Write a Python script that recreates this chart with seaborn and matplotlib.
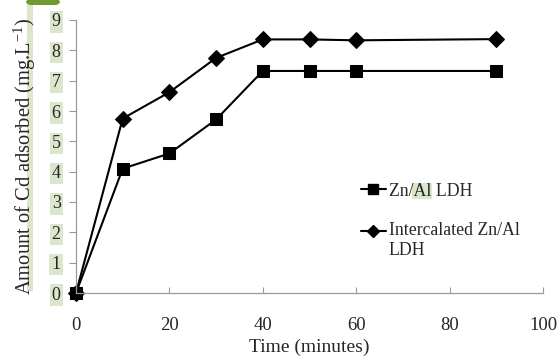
import matplotlib
matplotlib.use("Agg")
import matplotlib.pyplot as plt
import seaborn as sns
import pandas as pd
import numpy as np
from matplotlib.patches import Rectangle, FancyBboxPatch
from matplotlib.lines import Line2D

time = [0, 10, 20, 30, 40, 50, 60, 90]
znal = [0, 4.1, 4.6, 5.72, 7.32, 7.32, 7.32, 7.32]
intercal = [0, 5.75, 6.62, 7.75, 8.36, 8.36, 8.33, 8.37]
series_names = ["Zn/Al LDH", "Intercalated Zn/Al\nLDH"]
xticks = [0, 20, 40, 60, 80, 100]
yticks = list(range(0, 10))

df = pd.DataFrame({
    "Time": time * 2,
    "Amount": znal + intercal,
    "Series": [series_names[0]] * len(time) + [series_names[1]] * len(time),
})

sns.set_style("white")
plt.rcParams["font.family"] = ["Liberation Serif", "DejaVu Serif"]
plt.rcParams["mathtext.fontset"] = "custom"
plt.rcParams["mathtext.rm"] = "Liberation Serif"
plt.rcParams["mathtext.it"] = "Liberation Serif:italic"

fig = plt.figure(figsize=(5.6, 3.61), dpi=100)
ax = fig.add_axes([76/560, 1-293/361, (543-76)/560, (293-20)/361])

sns.lineplot(data=df, x="Time", y="Amount", hue="Series", style="Series",
             markers={series_names[0]: "s", series_names[1]: "D"},
             dashes=False, palette=["black", "black"], markersize=9,
             linewidth=1.5, markeredgecolor="black", ax=ax, legend=False)
for line in ax.lines:
    if line.get_marker() == "D":
        line.set_markersize(8)
    line.set_clip_on(False)

ax.set_xlim(0, 100)
ax.set_ylim(0, 9)
ax.set_xticks(xticks)
ax.set_yticks(yticks)
ax.set_xlabel("Time (minutes)", fontsize=14, labelpad=4)
ax.set_ylabel("Amount of Cd adsorbed (mg.L$^{\\mathrm{-1}}$)", fontsize=14.8, labelpad=10)
for sp in ["top", "right"]:
    ax.spines[sp].set_visible(False)
ax.spines["left"].set_color("#999999")
ax.spines["bottom"].set_color("#999999")
ax.spines["left"].set_linewidth(0.9)
ax.spines["bottom"].set_linewidth(0.9)
ax.tick_params(axis="y", direction="out", length=5, color="#999999", labelsize=13, pad=6)
ax.tick_params(axis="x", direction="in", length=4, color="#999999", labelsize=13.5, pad=17)
ax.tick_params(left=True, bottom=True)
for lab in ax.get_yticklabels():
    lab.set_bbox(dict(facecolor="#dce6cc", edgecolor="none", pad=1.5))

handles = [Line2D([], [], color="black", lw=1.5, marker="s", markersize=7),
           Line2D([], [], color="black", lw=1.5, marker="D", markersize=6.5)]
leg = ax.legend(handles, series_names, loc="upper left",
                bbox_to_anchor=(0.595, 0.43), frameon=False,
                fontsize=12.8, handlelength=1.4, handletextpad=0.15,
                labelspacing=1.25, borderaxespad=0)
for h in leg.legend_handles[1:]:
    h.set_ydata(np.asarray(h.get_ydata(), dtype=float) + 7.0)

# decorative highlights
fig.patches.append(Rectangle((27/560, 1-291/361), 6/560, 291/361,
                             transform=fig.transFigure, facecolor="#dce6cc",
                             edgecolor="none", zorder=-1))
fig.patches.append(FancyBboxPatch((26/560, 1-5/361), 34/560, 6/361,
                                  boxstyle="round,pad=0,rounding_size=0.01",
                                  transform=fig.transFigure, facecolor="#6f9a2f",
                                  edgecolor="none"))

fig.canvas.draw()
r = fig.canvas.get_renderer()
t0 = leg.get_texts()[0]
bb = t0.get_window_extent(r)
tmp = fig.text(0, 0, "Zn/", fontsize=12.8)
w1 = tmp.get_window_extent(r).width
tmp.set_text("Zn/Al")
w2 = tmp.get_window_extent(r).width
tmp.remove()
ax.add_patch(Rectangle(((bb.x0 + w1 - 1) / 560, (bb.y0 + 1) / 361),
                       (w2 - w1 + 2) / 560, (bb.height - 1) / 361,
                       transform=fig.transFigure, facecolor="#dce6cc",
                       edgecolor="none", zorder=4, clip_on=False))

fig.savefig("out.png", dpi=100)
